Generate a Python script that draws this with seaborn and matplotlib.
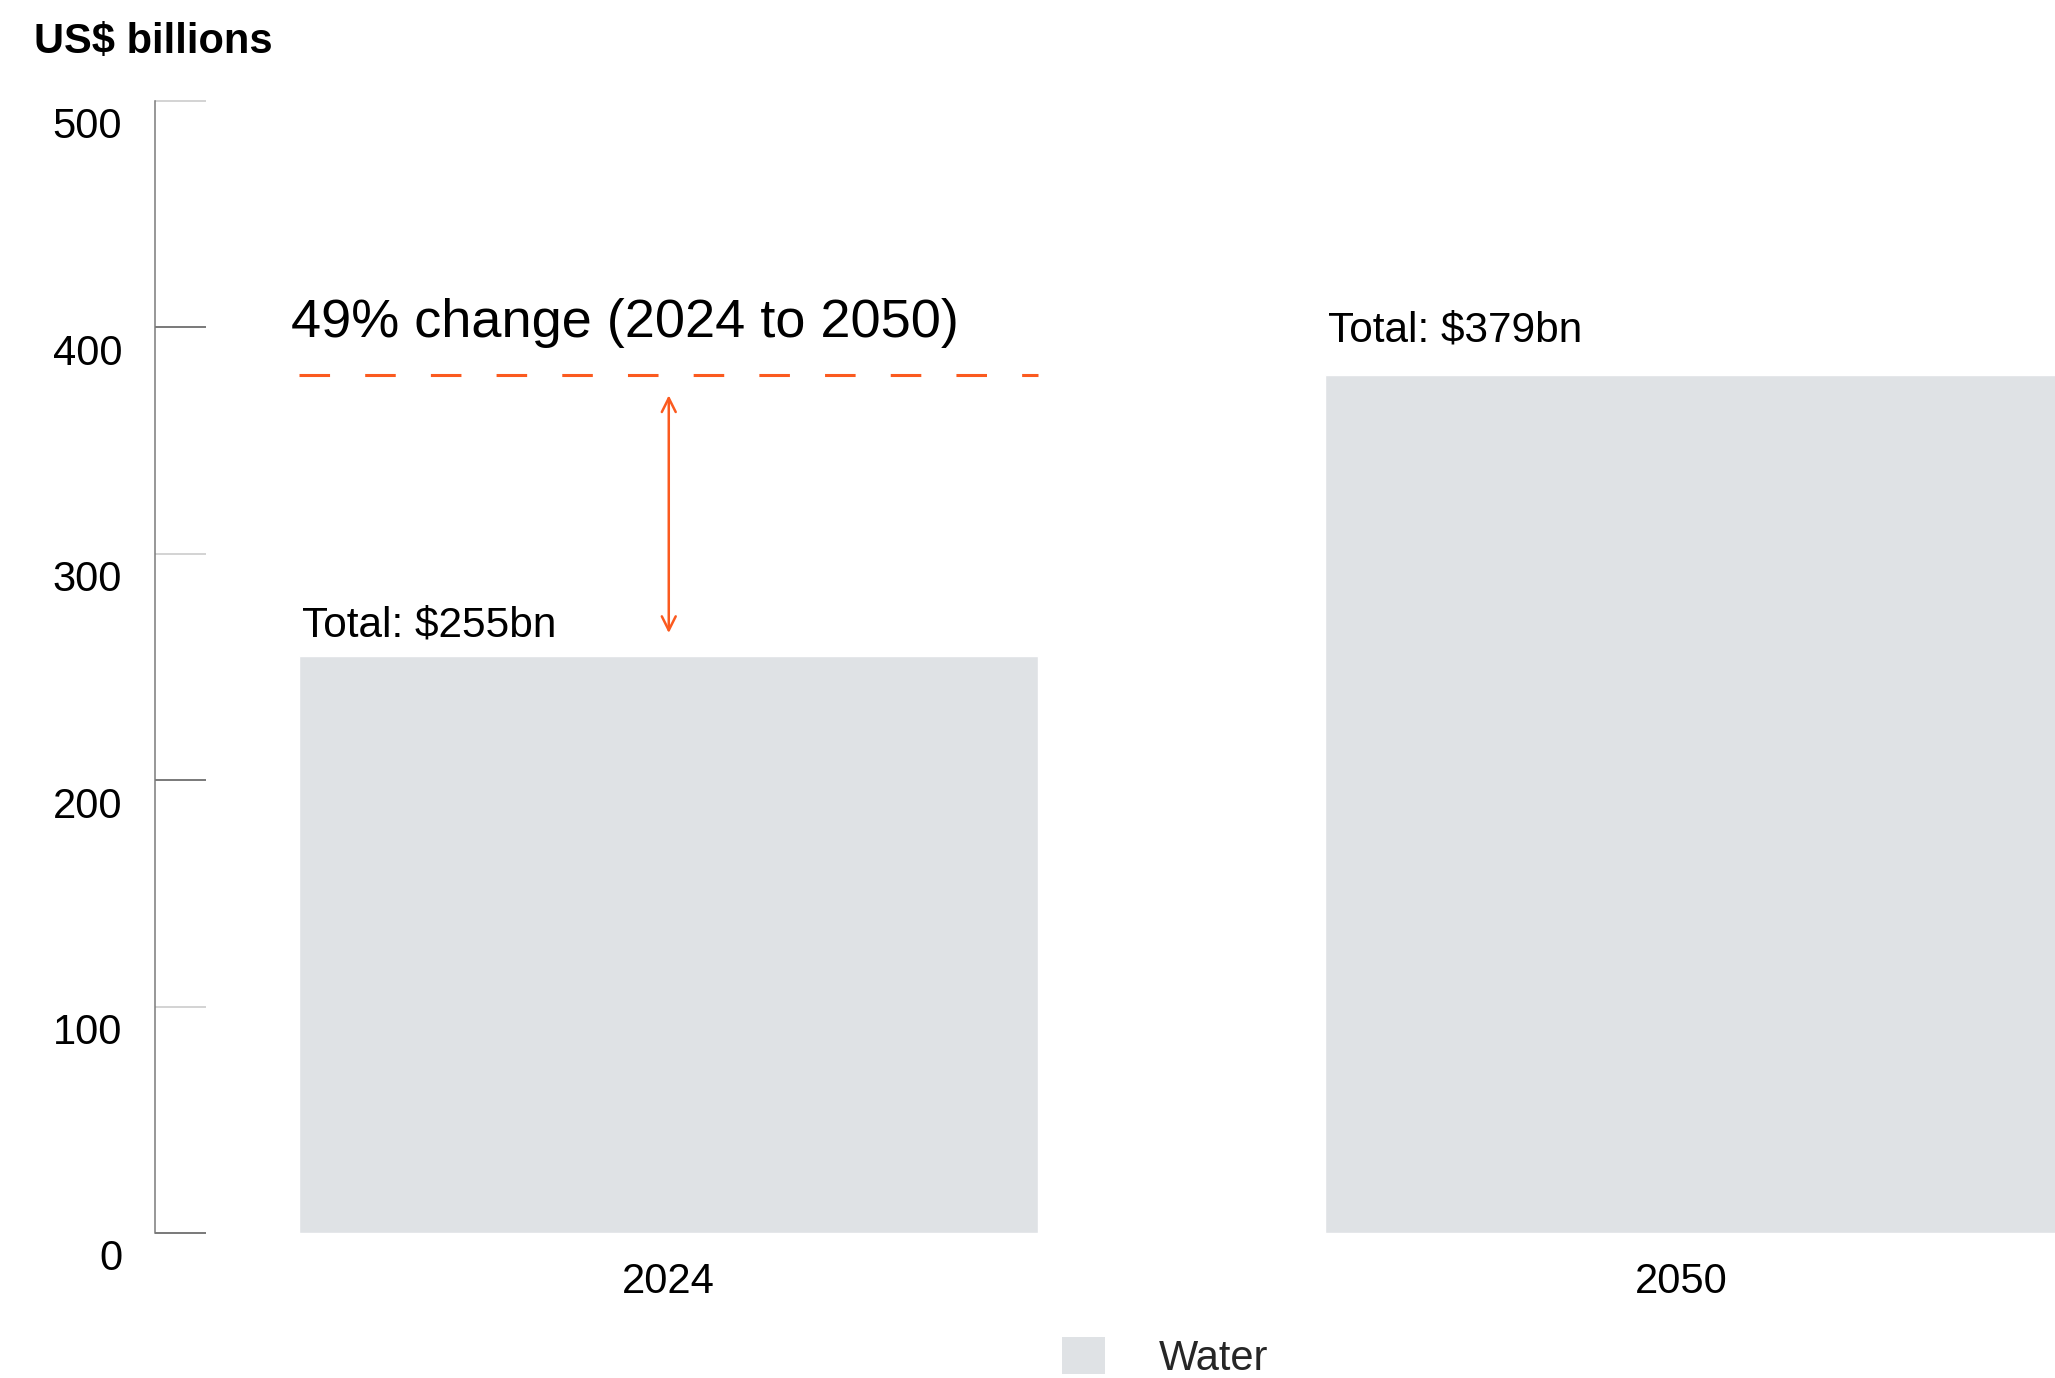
import matplotlib
matplotlib.use("Agg")
import matplotlib.pyplot as plt
import matplotlib.transforms as mtransforms
from matplotlib.patches import Patch
import seaborn as sns
import pandas as pd

# ---- data ----
years = ["2024", "2050"]
totals = [255, 379]
total_labels = ["Total: $255bn", "Total: $379bn"]
series_name = "Water"
change_label = "49% change (2024 to 2050)"
y_ticks = [0, 100, 200, 300, 400, 500]
y_unit = "US$ billions"

BAR = "#dfe2e5"
ORANGE = "#fb5a1f"

sns.set_theme(style="white")
plt.rcParams["font.family"] = ["Liberation Sans", "DejaVu Sans"]

DPI = 100
fig = plt.figure(figsize=(20.55, 13.78), dpi=DPI)
ax = fig.add_axes([154.7 / 2055, 1 - 1233 / 1378, 1 - 154.7 / 2055, (1233 - 101) / 1378])

W = 0.72
df = pd.DataFrame({"year": years, "total": totals})
sns.barplot(data=df, x="year", y="total", color=BAR, saturation=1, width=W, ax=ax)

ax.set_ylim(0, 500)
ax.set_xlim(-0.501, 1.351)
ax.set_xlabel("")
ax.set_ylabel("")

for s in ["top", "right", "bottom"]:
    ax.spines[s].set_visible(False)
ax.spines["left"].set_color("#7a7a7a")
ax.spines["left"].set_linewidth(1.1)

ax.set_yticks(y_ticks)
ax.tick_params(axis="y", left=True, direction="in", length=36.5, width=1.1, pad=23.5,
               labelsize=30, labelcolor="black")
ax.tick_params(axis="x", bottom=False, length=0, pad=21, labelsize=30, labelcolor="black")

off = mtransforms.ScaledTranslation(0, -22 / DPI, fig.dpi_scale_trans)
for lab in ax.get_yticklabels():
    lab.set_transform(lab.get_transform() + off)
xlabs = ax.get_xticklabels()
xlabs[1].set_transform(xlabs[1].get_transform() +
                       mtransforms.ScaledTranslation(-14 / DPI, 0, fig.dpi_scale_trans))

# total labels above bars
label_offsets = [14, 24]
for i, (v, lab, dy) in enumerate(zip(totals, total_labels, label_offsets)):
    ax.annotate(lab, xy=(i - W / 2, v), xytext=(2, dy), textcoords="offset points",
                ha="left", va="baseline", fontsize=30.5, color="black")

# dashed reference line at 2050 level over 2024 bar
ax.plot([-W / 2, W / 2], [totals[1], totals[1]], color=ORANGE, lw=2.2,
        dashes=(10, 11.5), solid_capstyle="butt", dash_capstyle="butt")

ax.annotate(change_label, xy=(-W / 2, totals[1]), xytext=(-6, 27.5),
            textcoords="offset points", ha="left", va="baseline",
            fontsize=39, color="black")

# double arrow
ax.annotate("", xy=(0, totals[0] + 10), xytext=(0, totals[1] - 9),
            arrowprops=dict(arrowstyle="<->", color=ORANGE, lw=1.8,
                            mutation_scale=25, shrinkA=0, shrinkB=0))

fig.text(34 / 2055, 1 - 42 / 1378, y_unit, fontsize=30, fontweight="bold",
         ha="left", va="center", color="black")

leg = fig.legend(handles=[Patch(facecolor=BAR, edgecolor="none", label=series_name)],
                 loc="center left", bbox_to_anchor=(1062 / 2055, 1 - 1358 / 1378),
                 frameon=False, fontsize=30, handlelength=1.03, handleheight=1.0,
                 handletextpad=1.3, borderpad=0, borderaxespad=0)

fig.canvas.draw()
tick_cols = ["#555555", "#c8c8c8", "#555555", "#c8c8c8", "#555555", "#c8c8c8"]
for t, c in zip(ax.yaxis.get_major_ticks(), tick_cols):
    t.tick1line.set_markeredgecolor(c)

fig.savefig("out.png", dpi=DPI)
